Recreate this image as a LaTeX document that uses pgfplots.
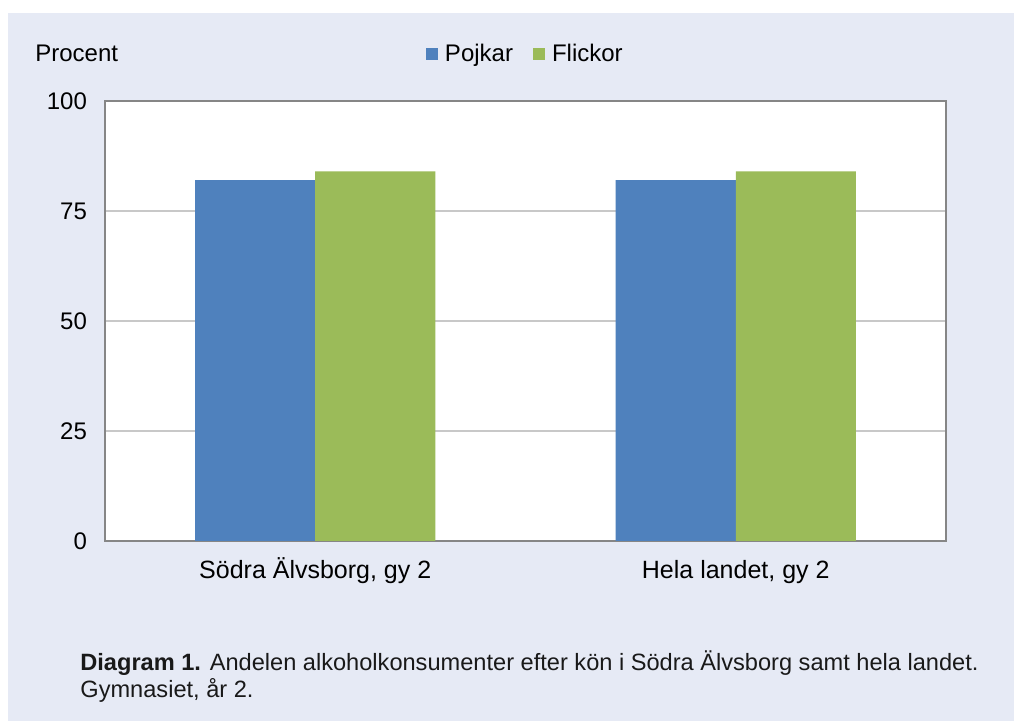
\documentclass[border=0pt]{standalone}
\usepackage{pgfplots}
\pgfplotsset{compat=1.18}
\usepackage{fontspec}
\setmainfont{Liberation Sans}
\definecolor{bgc}{HTML}{E6EAF5}
\definecolor{bblue}{HTML}{4F81BD}
\definecolor{bgreen}{HTML}{9BBB59}
\definecolor{framec}{HTML}{868686}
\definecolor{gridc}{HTML}{C8C8C8}
\begin{document}
\begin{tikzpicture}[x=1pt,y=1pt]
\fill[white] (0,0) rectangle (507,360.5);
\fill[bgc] (4,0) rectangle (507,354);
\begin{axis}[
  at={(52.5pt,90pt)}, anchor=south west,
  scale only axis, width=420.5pt, height=220pt,
  ybar=0pt, bar width=60pt,
  xmin=-0.5, xmax=1.5, ymin=0, ymax=100,
  xtick=data, xticklabels={{Södra Älvsborg, gy 2},{Hela landet, gy 2}},
  ytick={0,25,50,75,100},
  ymajorgrids, grid style={gridc, line width=0.8pt},
  axis line style={framec, line width=0.9pt},
  major tick length=0pt,
  axis background/.style={fill=white},
  tick label style={font=\fontsize{12}{14}\selectfont, text=black},
  /pgf/number format/assume math mode=true,
  yticklabel style={xshift=-5.5pt},
  xticklabel style={font=\fontsize{12.5}{14}\selectfont, anchor=base, yshift=-18.8pt},
  legend columns=2,
  legend style={at={(0.501,1.106)}, anchor=center, draw=none, fill=none,
    font=\fontsize{12}{14}\selectfont,
    /tikz/every even column/.append style={column sep=8pt},
    /tikz/every odd column/.append style={column sep=0pt}},
  legend image code/.code={\fill[#1] (0pt,-3pt) rectangle (6pt,3pt);\path (7.5pt,0pt);},
]
\addplot[fill=bblue, draw=none] coordinates {(0,82) (1,82)};
\addplot[fill=bgreen, draw=none] coordinates {(0,84) (1,84)};
\legend{Pojkar,Flickor}
\end{axis}
\node[anchor=base west, inner sep=0pt, font=\fontsize{12}{14}\selectfont] at (17.5,329.5) {Procent};
\node[anchor=base west, inner sep=0pt, font=\fontsize{11.8}{13}\selectfont, text=black!90] at (40,25) {\textbf{Diagram 1.} Andelen alkoholkonsumenter efter kön i Södra Älvsborg samt hela landet.};
\node[anchor=base west, inner sep=0pt, font=\fontsize{11.8}{13}\selectfont, text=black!90] at (40,11.75) {Gymnasiet, år 2.};
\end{tikzpicture}
\end{document}
